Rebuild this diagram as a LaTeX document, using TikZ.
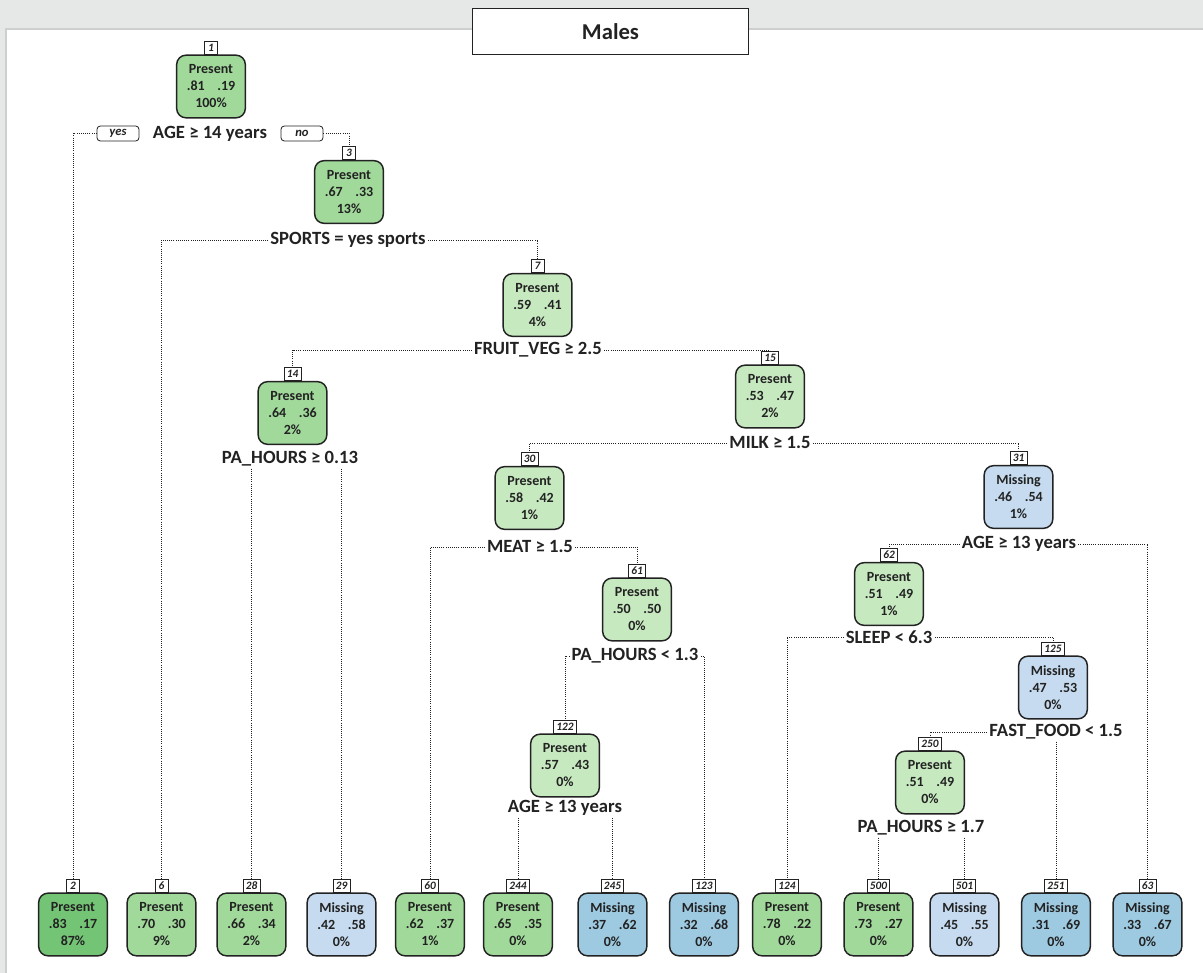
\documentclass[tikz,border=0pt]{standalone}
\usepackage{fontspec}
\setmainfont{Carlito}
\usetikzlibrary{positioning}
\definecolor{grlight}{HTML}{C7E9C0}
\definecolor{grmid}{HTML}{A1D99B}
\definecolor{grdark}{HTML}{74C476}
\definecolor{bllight}{HTML}{C6DBEF}
\definecolor{blmid}{HTML}{9ECAE1}
\definecolor{panelgray}{HTML}{E6E8E7}
\definecolor{panelline}{HTML}{CDCFCE}
\definecolor{ink}{HTML}{222222}

\begin{document}
\begin{tikzpicture}[x=0.75pt, y=-0.75pt, text=ink,
     box/.style={draw=ink, line width=1.1pt, rounded corners=7pt, minimum width=51.5pt, minimum height=47pt, inner sep=0pt, align=center, font=\fontsize{10.5}{12.75}\selectfont\bfseries},
     num/.style={draw=ink, fill=white, line width=0.5pt, inner sep=0pt, inner xsep=2pt, minimum width=9.75pt, minimum height=9.75pt, font=\fontsize{8.5}{8.5}\selectfont\bfseries\itshape},
     split/.style={inner sep=1.5pt, font=\fontsize{14}{14}\selectfont\bfseries},
     yesno/.style={draw=ink, fill=white, line width=0.6pt, rounded corners=2.5pt, minimum width=31.5pt, minimum height=11.25pt, inner sep=0pt, font=\fontsize{9.5}{9.5}\selectfont\bfseries\itshape},
     e/.style={densely dotted, line width=0.6pt, ink}]
    \useasboundingbox (0,0) rectangle (1203,973);
    \fill[panelgray] (0,0) rectangle (1203,973);
    \fill[white] (6,29) rectangle (1203,973);
    \draw[panelline, line width=1.5pt] (6,973) -- (6,29) -- (1203,29);
    \node[draw=ink, fill=white, line width=0.8pt, minimum width=207pt, minimum height=35pt, font=\fontsize{17}{17}\selectfont\bfseries] (title) at (610.5,31.5) {Males};

    \node[box, fill=grmid] (n1) at (211,86.5) {Present\\.81\hspace{0.9em}.19\\100\%};
    \node[num, above=0pt of n1] (t1) {1};
    \node[split] (s1) at (210,134) {AGE ≥ 14 years};
    \node[yesno] (yes) at (118,133.5) {yes};
    \node[yesno] (no) at (302,133.5) {no};

    \node[box, fill=grmid] (n3) at (349,192) {Present\\.67\hspace{0.9em}.33\\13\%};
    \node[num, above=0pt of n3] (t3) {3};
    \node[split] (s3) at (348,240) {SPORTS = yes sports};

    \node[box, fill=grlight] (n7) at (537.5,305) {Present\\.59\hspace{0.9em}.41\\4\%};
    \node[num, above=0pt of n7] (t7) {7};
    \node[split] (s7) at (538,350) {FRUIT\_VEG ≥ 2.5};

    \node[box, fill=grmid] (n14) at (292.5,413) {Present\\.64\hspace{0.9em}.36\\2\%};
    \node[num, above=0pt of n14] (t14) {14};
    \node[split] (s14) at (290,459) {PA\_HOURS ≥ 0.13};

    \node[box, fill=grlight] (n15) at (770,396.5) {Present\\.53\hspace{0.9em}.47\\2\%};
    \node[num, above=0pt of n15] (t15) {15};
    \node[split] (s15) at (770,443) {MILK ≥ 1.5};

    \node[box, fill=grlight] (n30) at (529.5,498) {Present\\.58\hspace{0.9em}.42\\1\%};
    \node[num, above=0pt of n30] (t30) {30};
    \node[split] (s30) at (530,547) {MEAT ≥ 1.5};

    \node[box, fill=bllight] (n31) at (1018.5,497) {Missing\\.46\hspace{0.9em}.54\\1\%};
    \node[num, above=0pt of n31] (t31) {31};
    \node[split] (s31) at (1019,544) {AGE ≥ 13 years};

    \node[box, fill=grlight] (n61) at (637,609.5) {Present\\.50\hspace{0.9em}.50\\0\%};
    \node[num, above=0pt of n61] (t61) {61};
    \node[split] (s61) at (635,656) {PA\_HOURS < 1.3};

    \node[box, fill=grlight] (n62) at (889,594) {Present\\.51\hspace{0.9em}.49\\1\%};
    \node[num, above=0pt of n62] (t62) {62};
    \node[split] (s62) at (889,637) {SLEEP < 6.3};

    \node[box, fill=bllight] (n125) at (1053,687.5) {Missing\\.47\hspace{0.9em}.53\\0\%};
    \node[num, above=0pt of n125] (t125) {125};
    \node[split] (s125) at (1056,732) {FAST\_FOOD < 1.5};

    \node[box, fill=grlight] (n122) at (565,765.5) {Present\\.57\hspace{0.9em}.43\\0\%};
    \node[num, above=0pt of n122] (t122) {122};
    \node[split] (s122) at (565,808) {AGE ≥ 13 years};

    \node[box, fill=grlight] (n250) at (930,782.5) {Present\\.51\hspace{0.9em}.49\\0\%};
    \node[num, above=0pt of n250] (t250) {250};
    \node[split] (s250) at (921,828) {PA\_HOURS ≥ 1.7};

    \node[box, fill=grdark] (n2) at (73,924.5) {Present\\.83\hspace{0.9em}.17\\87\%};
    \node[num, above=0pt of n2] (t2) {2};
    \node[box, fill=grmid] (n6) at (161.5,924.5) {Present\\.70\hspace{0.9em}.30\\9\%};
    \node[num, above=0pt of n6] (t6) {6};
    \node[box, fill=grmid] (n28) at (251.5,924.5) {Present\\.66\hspace{0.9em}.34\\2\%};
    \node[num, above=0pt of n28] (t28) {28};
    \node[box, fill=bllight] (n29) at (341.5,924.5) {Missing\\.42\hspace{0.9em}.58\\0\%};
    \node[num, above=0pt of n29] (t29) {29};
    \node[box, fill=grmid] (n60) at (430,924.5) {Present\\.62\hspace{0.9em}.37\\1\%};
    \node[num, above=0pt of n60] (t60) {60};
    \node[box, fill=grmid] (n244) at (518,924.5) {Present\\.65\hspace{0.9em}.35\\0\%};
    \node[num, above=0pt of n244] (t244) {244};
    \node[box, fill=blmid] (n245) at (612.5,924.5) {Missing\\.37\hspace{0.9em}.62\\0\%};
    \node[num, above=0pt of n245] (t245) {245};
    \node[box, fill=blmid] (n123) at (704,924.5) {Missing\\.32\hspace{0.9em}.68\\0\%};
    \node[num, above=0pt of n123] (t123) {123};
    \node[box, fill=grmid] (n124) at (787,924.5) {Present\\.78\hspace{0.9em}.22\\0\%};
    \node[num, above=0pt of n124] (t124) {124};
    \node[box, fill=grmid] (n500) at (878.5,924.5) {Present\\.73\hspace{0.9em}.27\\0\%};
    \node[num, above=0pt of n500] (t500) {500};
    \node[box, fill=bllight] (n501) at (964.5,924.5) {Missing\\.45\hspace{0.9em}.55\\0\%};
    \node[num, above=0pt of n501] (t501) {501};
    \node[box, fill=blmid] (n251) at (1056,924.5) {Missing\\.31\hspace{0.9em}.69\\0\%};
    \node[num, above=0pt of n251] (t251) {251};
    \node[box, fill=blmid] (n63) at (1147.5,924.5) {Missing\\.33\hspace{0.9em}.67\\0\%};
    \node[num, above=0pt of n63] (t63) {63};

    \draw[e] (yes.west) -| (t2.north);
    \draw[e] (no.east) -| (t3.north);
    \draw[e] (s3.west) -| (t6.north);
    \draw[e] (s3.east) -| (t7.north);
    \draw[e] (s7.west) -| (t14.north);
    \draw[e] (s7.east) -| (t15.north);
    \draw[e] (s14.south -| t28.north) -- (t28.north);
    \draw[e] (s14.south -| t29.north) -- (t29.north);
    \draw[e] (s15.west) -| (t30.north);
    \draw[e] (s15.east) -| (t31.north);
    \draw[e] (s30.west) -| (t60.north);
    \draw[e] (s30.east) -| (t61.north);
    \draw[e] (s31.west) -| (t62.north);
    \draw[e] (s31.east) -| (t63.north);
    \draw[e] (s61.west) -| (t122.north);
    \draw[e] (s61.east) -| (t123.north);
    \draw[e] (s62.west) -| (t124.north);
    \draw[e] (s62.east) -| (t125.north);
    \draw[e] (s125.west) -| (t250.north);
    \draw[e] (s125.south -| t251.north) -- (t251.north);
    \draw[e] (s122.south -| t244.north) -- (t244.north);
    \draw[e] (s122.south -| t245.north) -- (t245.north);
    \draw[e] (s250.south -| t500.north) -- (t500.north);
    \draw[e] (s250.south -| t501.north) -- (t501.north);
  \end{tikzpicture}
\end{document}
